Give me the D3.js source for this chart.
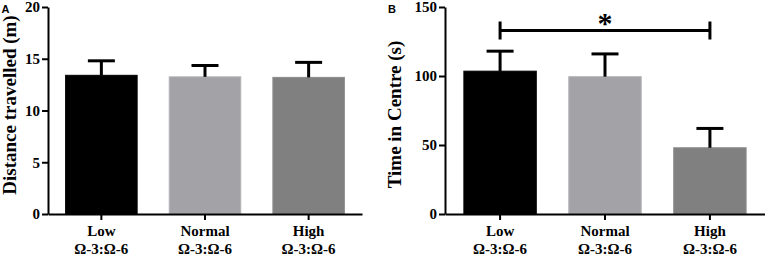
<!DOCTYPE html>
<html>
<head>
<meta charset="utf-8">
<script src="https://cdn.jsdelivr.net/npm/d3@7"></script>
<style>
  body { margin: 0; background: #fff; }
</style>
</head>
<body>
<div id="chart"></div>
<script>
// groups on the x axis
var groups = ["Low", "Normal", "High"];
var groupSub = "\u03A9-3:\u03A9-6";
var barColors = ["#000000", "#a3a3a7", "#808080"];

// panel A - distance travelled (m)
var distMean = [13.4, 13.25, 13.2];
var distSem = [1.4, 1.1, 1.45];
var distTicks = [0, 5, 10, 15, 20];

// panel B - time in centre (s)
var timeMean = [103.5, 99.5, 48];
var timeSem = [14.5, 16.5, 14];
var timeTicks = [0, 50, 100, 150];

var serif = '"Liberation Serif", "Times New Roman", serif';

var svg = d3.select("#chart")
    .append("svg")
    .attr("width", 765)
    .attr("height", 259);

function drawPanel(opt) {
    var g = svg.append("g");

    var x = d3.scaleBand()
        .domain(groups)
        .range([opt.left, opt.right])
        .paddingInner(0.31)
        .paddingOuter(opt.outer);

    var y = d3.scaleLinear()
        .domain([0, opt.max])
        .range([214, 7]);

    // bars
    g.selectAll("rect.bar")
        .data(opt.mean)
        .enter()
        .append("rect")
        .attr("class", "bar")
        .attr("x", (d, i) => x(groups[i]))
        .attr("width", x.bandwidth())
        .attr("y", d => y(d))
        .attr("height", d => y(0) - y(d))
        .attr("fill", (d, i) => barColors[i])
        .attr("stroke", (d, i) => i == 0 ? "#000" : d3.color(barColors[i]).brighter(0.25))
        .attr("stroke-width", 1);

    // error bars (upper only)
    var err = g.selectAll("g.err")
        .data(opt.mean)
        .enter()
        .append("g")
        .attr("class", "err");
    err.append("line")
        .attr("x1", (d, i) => x(groups[i]) + x.bandwidth() / 2)
        .attr("x2", (d, i) => x(groups[i]) + x.bandwidth() / 2)
        .attr("y1", d => y(d))
        .attr("y2", (d, i) => y(d + opt.sem[i]))
        .attr("stroke", "#000")
        .attr("stroke-width", 3);
    err.append("line")
        .attr("x1", (d, i) => x(groups[i]) + x.bandwidth() / 2 - 13.5)
        .attr("x2", (d, i) => x(groups[i]) + x.bandwidth() / 2 + 13.5)
        .attr("y1", (d, i) => y(d + opt.sem[i]))
        .attr("y2", (d, i) => y(d + opt.sem[i]))
        .attr("stroke", "#000")
        .attr("stroke-width", 3);

    // y axis
    var yAxis = g.append("g")
        .attr("transform", "translate(" + opt.left + ",0)")
        .call(d3.axisLeft(y).tickValues(opt.ticks).tickSize(6).tickSizeOuter(0).tickPadding(2));
    yAxis.select(".domain").attr("stroke-width", 2);
    yAxis.selectAll(".tick line").attr("stroke-width", 2);
    yAxis.selectAll(".tick text")
        .style("font-size", "15px")
        .style("font-family", serif)
        .style("font-weight", "bold")
        .attr("fill", "#000");

    // x axis
    var xAxis = g.append("g")
        .attr("transform", "translate(0," + y(0) + ")")
        .call(d3.axisBottom(x).tickSize(6).tickSizeOuter(0).tickFormat(""));
    xAxis.select(".domain").attr("stroke-width", 2);
    xAxis.selectAll(".tick line").attr("stroke-width", 2);

    // category labels, two lines
    var lab = g.selectAll("text.cat")
        .data(groups)
        .enter()
        .append("text")
        .attr("class", "cat")
        .attr("text-anchor", "middle")
        .style("font-family", serif)
        .style("font-weight", "bold")
        .style("font-size", "15px")
        .attr("x", d => x(d) + x.bandwidth() / 2);
    lab.append("tspan")
        .attr("x", d => x(d) + x.bandwidth() / 2)
        .attr("y", 236)
        .text(d => d);
    lab.append("tspan")
        .attr("x", d => x(d) + x.bandwidth() / 2)
        .attr("y", 254)
        .text(groupSub);

    // y title
    g.append("text")
        .attr("transform", "translate(" + opt.titleX + "," + opt.titleY + ") rotate(-90)")
        .attr("text-anchor", "middle")
        .style("font-family", serif)
        .style("font-weight", "bold")
        .style("font-size", "19px")
        .text(opt.title);

    // panel letter
    g.append("text")
        .attr("x", opt.letterX)
        .attr("y", 12.5)
        .style("font-family", '"Liberation Sans", Arial, sans-serif')
        .style("font-weight", "bold")
        .style("font-size", "11px")
        .text(opt.letter);

    return {g: g, x: x, y: y};
}

drawPanel({
    left: 48, right: 362, outer: 0.17, max: 20,
    mean: distMean, sem: distSem, ticks: distTicks,
    title: "Distance travelled (m)", titleX: 15.5, titleY: 105,
    letter: "A", letterX: 1.5
});

var pB = drawPanel({
    left: 445, right: 765, outer: 0.18, max: 150,
    mean: timeMean, sem: timeSem, ticks: timeTicks,
    title: "Time in Centre (s)", titleX: 400.5, titleY: 114.5,
    letter: "B", letterX: 388
});

// significance bracket Low vs High
var bx1 = pB.x("Low") + pB.x.bandwidth() / 2,
    bx2 = pB.x("High") + pB.x.bandwidth() / 2,
    by = pB.y(133);
pB.g.append("path")
    .attr("d", "M" + bx1 + "," + (by - 9) + "V" + (by + 9) + "M" + bx1 + "," + by + "H" + bx2 +
        "M" + bx2 + "," + (by - 9) + "V" + (by + 9))
    .attr("fill", "none")
    .attr("stroke", "#000")
    .attr("stroke-width", 3);
pB.g.append("text")
    .attr("x", (bx1 + bx2) / 2)
    .attr("y", by + 3)
    .attr("text-anchor", "middle")
    .style("font-family", serif)
    .style("font-weight", "bold")
    .style("font-size", "30px")
    .text("*");
</script>
</body>
</html>
